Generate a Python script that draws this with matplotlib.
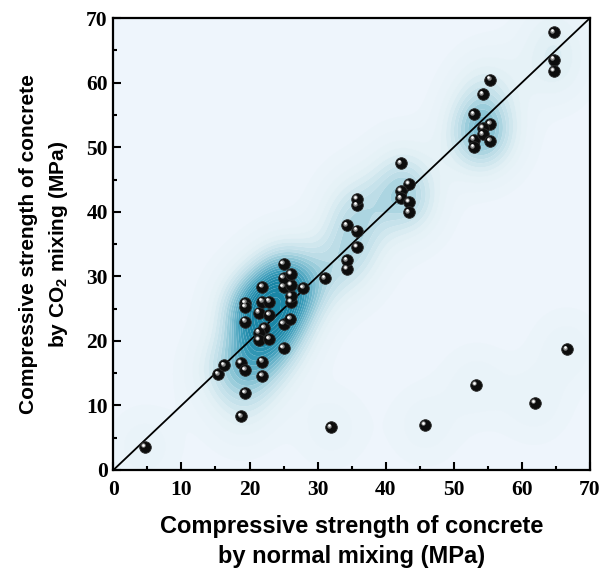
import numpy as np
import matplotlib
matplotlib.use("Agg")
import matplotlib.pyplot as plt
from matplotlib.colors import LinearSegmentedColormap
from matplotlib.ticker import MultipleLocator
from matplotlib.transforms import offset_copy

plt.rcParams["mathtext.fontset"] = "custom"
plt.rcParams["mathtext.rm"] = "Liberation Sans:bold"

# compressive strength pairs (MPa)
normal_mix = [4.6, 15.4, 16.3, 18.7, 19.4, 18.8, 19.4, 21.9, 21.9, 19.4,
              19.4, 19.4, 21.4, 21.9, 22.9, 22.9, 22.2, 21.4, 21.4, 22.9,
              25.0, 25.0, 26.0, 26.1, 26.1, 25.0, 26.1, 21.9, 25.0, 26.1,
              25.0, 27.9, 31.1, 32.0, 34.3, 34.3, 35.8, 34.3, 35.8, 35.8,
              35.8, 42.2, 43.4, 42.2, 42.2, 43.4, 43.4, 45.8, 53.3, 53.0,
              53.0, 53.0, 54.3, 55.4, 55.4, 54.3, 54.3, 55.4, 61.9, 64.7,
              64.7, 64.7, 66.6]
co2_mix = [3.6, 14.8, 16.2, 16.6, 15.5, 8.3, 11.9, 16.8, 14.6, 25.9,
           25.3, 23.0, 24.4, 26.1, 26.1, 24.0, 22.0, 21.3, 20.2, 20.3,
           18.9, 22.6, 23.4, 26.0, 27.0, 28.4, 28.7, 28.4, 29.8, 30.4,
           31.9, 28.2, 29.7, 6.6, 31.2, 32.5, 34.6, 37.9, 37.1, 41.0,
           42.0, 47.5, 44.3, 43.2, 42.1, 41.5, 39.9, 7.0, 13.2, 55.1,
           51.2, 50.0, 58.2, 60.5, 53.6, 53.0, 52.0, 51.0, 10.4, 67.8,
           63.6, 61.8, 18.7]
axis_limits = [0, 70]

x = np.asarray(normal_mix)
y = np.asarray(co2_mix)

# 2D gaussian kernel density on a grid
gx, gy = np.meshgrid(np.linspace(0, 70, 300), np.linspace(0, 70, 300))
bw_x, bw_y = 3.4, 4.0
dens = np.zeros_like(gx)
for xi, yi in zip(x, y):
    dens += np.exp(-0.5 * (((gx - xi) / bw_x) ** 2 + ((gy - yi) / bw_y) ** 2))
dens /= dens.max()

bg = "#eef5fc"
cmap = LinearSegmentedColormap.from_list(
    "teal", [bg, "#e2f0f5", "#bcdde7", "#7cbdd0", "#3a9cb9", "#1a86a6"])

fig = plt.figure(figsize=(6.0, 5.69), dpi=100)
ax = fig.add_axes([0.189, 0.174, 0.794, 0.794])
ax.set_facecolor(bg)

levels = np.concatenate([[0.02], np.linspace(0.05, 1.0, 24)])
ax.contourf(gx, gy, dens, levels=levels, cmap=cmap, vmin=0, vmax=0.8,
            antialiased=True, zorder=0)

ax.plot(axis_limits, axis_limits, color="black", lw=1.3, zorder=2)

# ball markers: dark body plus a small specular highlight
ax.scatter(x, y, s=70, color="#0d0d0d", edgecolors="#2a2a2a",
           linewidths=0.6, zorder=3)
shine = offset_copy(ax.transData, fig=fig, x=-1.7, y=1.7, units="dots")
ax.scatter(x, y, s=10, color="#8a8a8a", linewidths=0, transform=shine, zorder=4)
shine2 = offset_copy(ax.transData, fig=fig, x=-2.1, y=2.1, units="dots")
ax.scatter(x, y, s=3.5, color="white", linewidths=0, transform=shine2, zorder=5)

ax.set_xlim(axis_limits)
ax.set_ylim(axis_limits)
ax.xaxis.set_major_locator(MultipleLocator(10))
ax.yaxis.set_major_locator(MultipleLocator(10))
ax.xaxis.set_minor_locator(MultipleLocator(5))
ax.yaxis.set_minor_locator(MultipleLocator(5))
ax.tick_params(which="both", direction="in", width=1.5, top=False, right=False)
ax.tick_params(which="major", length=6)
ax.tick_params(which="minor", length=3)
ax.tick_params(axis="x", pad=7)
ax.tick_params(axis="y", pad=4)
for lab in ax.get_xticklabels() + ax.get_yticklabels():
    lab.set_fontfamily("Liberation Serif")
    lab.set_fontweight("bold")
    lab.set_fontsize(15.5)
for sp in ax.spines.values():
    sp.set_linewidth(1.6)

ax.set_xlabel("Compressive strength of concrete\nby normal mixing (MPa)",
              fontfamily="Liberation Sans", fontweight="bold", fontsize=17,
              labelpad=11, linespacing=1.4)
ax.set_ylabel("Compressive strength of concrete\nby CO$_2$ mixing (MPa)",
              fontfamily="Liberation Sans", fontweight="bold", fontsize=15,
              labelpad=12, linespacing=1.5)

fig.savefig("out.png", dpi=100)
